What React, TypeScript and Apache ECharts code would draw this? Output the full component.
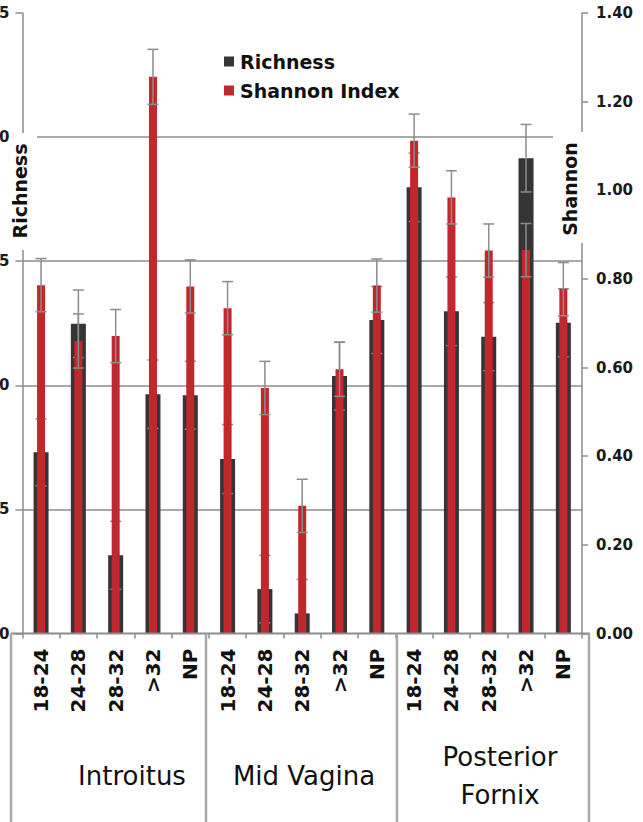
import React, { useEffect, useRef } from "react";
import * as echarts from "echarts";

// Sampling sites and age bands (years), plus the "NP" group
const sites = ["Introitus", "Mid Vagina", "Posterior\nFornix"];
const ageBands = ["18-24", "24-28", "28-32", ">32", "NP"];

// Observed richness (mean and SE), one value per site × age band
const richness = [7.3, 12.48, 3.15, 9.64, 9.6, 7.03, 1.79, 0.81, 10.37, 12.63, 17.98, 12.98, 11.96, 19.15, 12.52];
const richnessErr = [1.35, 1.36, 1.37, 1.38, 1.37, 1.39, 1.36, 1.37, 1.37, 1.35, 1.38, 1.38, 1.37, 1.36, 1.37];

// Shannon diversity index (mean and SE)
const shannon = [0.786, 0.66, 0.671, 1.256, 0.783, 0.734, 0.554, 0.288, 0.596, 0.785, 1.112, 0.984, 0.864, 0.865, 0.777];
const shannonErr = [0.06, 0.061, 0.06, 0.062, 0.06, 0.06, 0.06, 0.06, 0.061, 0.06, 0.06, 0.06, 0.06, 0.06, 0.06];

// Axis ranges
const richnessMax = 25;
const richnessStep = 5;
const shannonMax = 1.4;
const shannonStep = 0.2;

const FONT = "DejaVu Sans";
const GRAY = "#8c8c8c";
const DARK = "#363434";
const RED = "#c1272d";

const categories = sites.flatMap((s) => ageBands.map((a) => `${s}|${a}`));

function errorBars(values: number[], errs: number[]) {
  return values.map((v, i) => [i, v - errs[i], v + errs[i]]);
}

function makeErrorRenderer(capHalf: number) {
  return (params: any, api: any) => {
    const idx = api.value(0);
    const lo = api.value(1);
    const hi = api.value(2);
    const top = api.coord([idx, hi]);
    const bottom = api.coord([idx, Math.max(lo, 0)]);
    const style = { stroke: GRAY, lineWidth: 1.5 };
    const children: any[] = [
      { type: "line", shape: { x1: top[0], y1: top[1], x2: bottom[0], y2: bottom[1] }, style },
      { type: "line", shape: { x1: top[0] - capHalf, y1: top[1], x2: top[0] + capHalf, y2: top[1] }, style },
    ];
    if (lo >= 0) {
      children.push({
        type: "line",
        shape: { x1: bottom[0] - capHalf, y1: bottom[1], x2: bottom[0] + capHalf, y2: bottom[1] },
        style,
      });
    }
    return { type: "group", children };
  };
}

export default function App() {
  const ref = useRef<HTMLDivElement>(null);

  useEffect(() => {
    if (!ref.current) return;
    const chart = echarts.init(ref.current, null, { renderer: "svg" });

    const gridLeft = 22.4;
    const gridRight = 61;
    const gridTop = 13;
    const gridBottom = 188.5;
    const axisY = 822 - gridBottom;

    // frame lines of the grouped category table under the plot
    const tableLeft = 11;
    const tableRight = 589;
    const groupDividers = [tableLeft, 206, 397, tableRight];

    const categoryAxis = (show: boolean) => ({
      type: "category",
      data: categories,
      show,
      axisLine: { show: false },
      axisTick: { show, alignWithLabel: false, length: 5, lineStyle: { color: GRAY, width: 1.5 } },
      axisLabel: {
        show,
        interval: 0,
        rotate: 90,
        margin: 15,
        fontFamily: FONT,
        fontWeight: "bold",
        fontSize: 20,
        color: "#111",
        formatter: (v: string) => v.split("|")[1],
      },
    });

    const option: any = {
      animation: false,
      backgroundColor: "#ffffff",
      grid: {
        left: gridLeft,
        right: gridRight,
        top: gridTop,
        bottom: gridBottom,
        containLabel: false,
        outerBoundsMode: "none",
      },
      legend: {
        data: ["Richness", "Shannon Index"],
        orient: "vertical",
        left: 219,
        top: 47,
        icon: "rect",
        itemWidth: 10,
        itemHeight: 10,
        itemGap: 10,
        textStyle: { fontFamily: FONT, fontWeight: "bold", fontSize: 19, color: "#111", padding: [0, 0, 0, 1] },
      },
      xAxis: [categoryAxis(true), { ...categoryAxis(false), gridIndex: 0 }],
      yAxis: [
        {
          type: "value",
          min: 0,
          max: richnessMax,
          interval: richnessStep,
          position: "left",
          axisLine: { show: true, lineStyle: { color: GRAY, width: 1.5 } },
          axisTick: { show: true, length: 7, lineStyle: { color: GRAY, width: 1.5 } },
          axisLabel: { margin: 13, fontFamily: FONT, fontWeight: "bold", fontSize: 15, color: "#1a1a1a" },
          splitLine: { show: true, showMinLine: false, showMaxLine: false, lineStyle: { color: GRAY, width: 1.5 } },
        },
        {
          type: "value",
          min: 0,
          max: shannonMax,
          interval: shannonStep,
          position: "right",
          axisLine: { show: true, lineStyle: { color: GRAY, width: 1.5 } },
          axisTick: { show: true, length: 6, lineStyle: { color: GRAY, width: 1.5 } },
          axisLabel: {
            margin: 14,
            fontFamily: FONT,
            fontWeight: "bold",
            fontSize: 15,
            color: "#1a1a1a",
            formatter: (v: number) => v.toFixed(2),
          },
          splitLine: { show: false },
        },
      ],
      series: [
        {
          name: "Richness",
          type: "bar",
          xAxisIndex: 0,
          yAxisIndex: 0,
          data: richness,
          barWidth: 15,
          itemStyle: { color: DARK },
          z: 2,
        },
        {
          name: "Richness SE",
          type: "custom",
          xAxisIndex: 0,
          yAxisIndex: 0,
          data: errorBars(richness, richnessErr),
          encode: { x: 0, y: [1, 2] },
          renderItem: makeErrorRenderer(5.5),
          z: 3,
          silent: true,
        },
        {
          name: "Shannon Index",
          type: "bar",
          xAxisIndex: 1,
          yAxisIndex: 1,
          data: shannon,
          barWidth: 8,
          itemStyle: { color: RED },
          z: 4,
        },
        {
          name: "Shannon SE",
          type: "custom",
          xAxisIndex: 1,
          yAxisIndex: 1,
          data: errorBars(shannon, shannonErr),
          encode: { x: 0, y: [1, 2] },
          renderItem: makeErrorRenderer(5.5),
          z: 5,
          silent: true,
        },
      ],
      graphic: [
        // axis titles sit on white panels that interrupt the axis and grid lines
        { type: "rect", z: 100, shape: { x: 10, y: 133, width: 27, height: 117 }, style: { fill: "#fff" } },
        {
          type: "text",
          z: 101,
          x: 20,
          y: 191,
          rotation: Math.PI / 2,
          style: {
            text: "Richness",
            fontFamily: FONT,
            fontWeight: "bold",
            fontSize: 19,
            fill: "#111",
            align: "center",
            verticalAlign: "middle",
          },
        },
        { type: "rect", z: 100, shape: { x: 553, y: 132, width: 38, height: 111 }, style: { fill: "#fff" } },
        {
          type: "text",
          z: 101,
          x: 570,
          y: 189,
          rotation: Math.PI / 2,
          style: {
            text: "Shannon",
            fontFamily: FONT,
            fontWeight: "bold",
            fontSize: 19,
            fill: "#111",
            align: "center",
            verticalAlign: "middle",
          },
        },
        // category table: baseline and group dividers
        {
          type: "line",
          z: 50,
          shape: { x1: tableLeft, y1: axisY, x2: tableRight + 1, y2: axisY },
          style: { stroke: GRAY, lineWidth: 2 },
        },
        ...groupDividers.map((x) => ({
          type: "line",
          z: 50,
          shape: { x1: x, y1: axisY, x2: x, y2: 822 },
          style: { stroke: "#a8a8a8", lineWidth: 2.5 },
        })),
        // site names under each group of age bands
        ...sites.map((s, i) => ({
          type: "text",
          z: 60,
          x: [132, 304, 500][i],
          y: 776,
          style: {
            text: s,
            fontFamily: FONT,
            fontSize: 26,
            lineHeight: 38,
            fill: "#111",
            align: "center",
            verticalAlign: "middle",
          },
        })),
      ],
    };

    chart.setOption(option);
    return () => chart.dispose();
  }, []);

  return (
    <div
      ref={ref}
      style={{ position: "absolute", left: 0, top: 0, width: 643, height: 822, background: "#fff" }}
    />
  );
}
